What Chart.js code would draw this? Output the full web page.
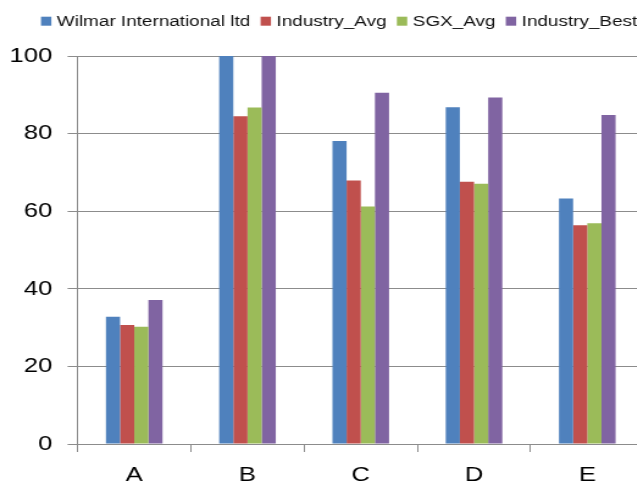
<!DOCTYPE html>
<html>
<head>
<meta charset="utf-8">
<script src="https://cdn.jsdelivr.net/npm/chart.js@4.4.1/dist/chart.umd.min.js"></script>
<style>
  html, body { margin: 0; padding: 0; background: #fff; overflow: hidden; width: 637px; height: 485px; }
  #wrap { position: absolute; left: 0; top: 0; width: 540px; height: 485px; transform: scaleX(1.22); transform-origin: 0 0; }
</style>
</head>
<body>
<div id="wrap"><canvas id="c"></canvas></div>
<script>
const categories = ['A', 'B', 'C', 'D', 'E'];
const wilmar = [32.8, 100, 78.1, 86.8, 63.3];
const industryAvg = [30.7, 84.5, 67.9, 67.6, 56.4];
const sgxAvg = [30.2, 86.7, 61.2, 67.1, 56.9];
const industryBest = [37.1, 100, 90.5, 89.3, 84.8];
const seriesNames = ['Wilmar International ltd', 'Industry_Avg', 'SGX_Avg', 'Industry_Best'];
const yTicks = [0, 20, 40, 60, 80, 100];

const colors = ['#4F81BD', '#C0504D', '#9BBB59', '#8064A2'];
const FONT = '"Liberation Sans", Arial, sans-serif';
const GRID = '#8c8c8c';

const excelLegend = {
  id: 'excelLegend',
  afterDraw(chart) {
    const ctx = chart.ctx;
    ctx.save();
    ctx.font = '15.5px ' + FONT;
    ctx.textBaseline = 'alphabetic';
    let x = 33.6;
    chart.data.datasets.forEach(ds => {
      ctx.fillStyle = ds.backgroundColor;
      ctx.fillRect(x, 16.7, 8.5, 9);
      ctx.fillStyle = '#111';
      ctx.fillText(ds.label, x + 13, 25.7);
      x += 13 + ctx.measureText(ds.label).width + 8.5;
    });
    ctx.restore();
  }
};

const seriesData = [wilmar, industryAvg, sgxAvg, industryBest];

new Chart(document.getElementById('c'), {
  type: 'bar',
  data: {
    labels: categories,
    datasets: seriesData.map((d, i) => ({
      label: seriesNames[i],
      data: d,
      backgroundColor: colors[i],
      borderWidth: 0,
      categoryPercentage: 0.5,
      barPercentage: 1.0
    }))
  },
  options: {
    responsive: true,
    maintainAspectRatio: false,
    animation: false,
    layout: { padding: { left: 0, right: 12.2, top: 56, bottom: 0 } },
    plugins: {
      legend: { display: false },
      tooltip: { enabled: false }
    },
    scales: {
      x: {
        offset: true,
        grid: { display: true, offset: true, drawOnChartArea: false, drawTicks: true, tickLength: 8, color: GRID, lineWidth: 1 },
        border: { display: true, color: GRID, width: 1 },
        ticks: { font: { family: FONT, size: 21 }, color: '#000', padding: 11 },
        afterFit(scale) { scale.height = 41; }
      },
      y: {
        min: 0,
        max: 100,
        afterBuildTicks(scale) { scale.ticks = yTicks.map(v => ({ value: v })); },
        grid: { color: GRID, lineWidth: 1, tickLength: 8.2, drawTicks: true },
        border: { display: true, color: GRID, width: 1 },
        ticks: { font: { family: FONT, size: 21 }, color: '#000', padding: 12.5 },
        afterFit(scale) { scale.width = 63.6; }
      }
    }
  },
  plugins: [excelLegend]
});
</script>
</body>
</html>
